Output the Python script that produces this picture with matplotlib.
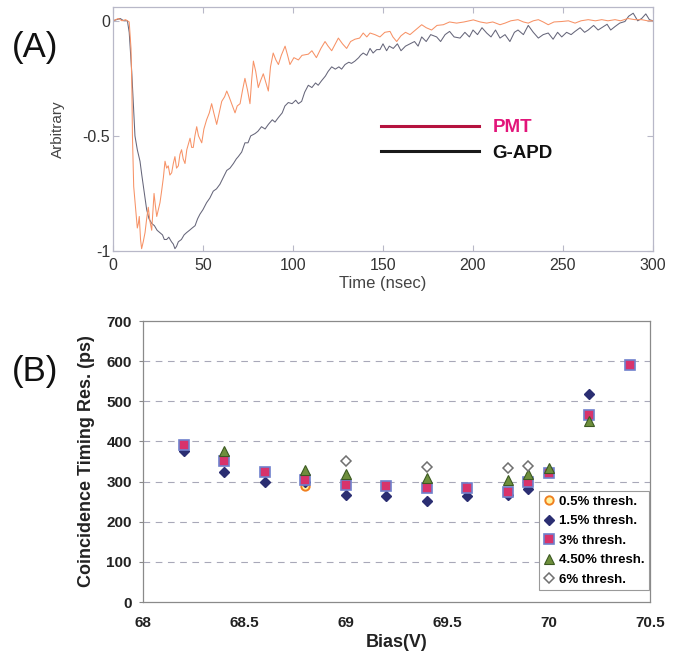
import matplotlib
matplotlib.use("Agg")
import matplotlib.pyplot as plt
from matplotlib.lines import Line2D

plt.rcParams['font.family'] = ['Liberation Sans', 'DejaVu Sans']
plt.rcParams['axes.unicode_minus'] = False

# ---------------- Panel A data ----------------
pmt_t = [0, 3, 5, 7, 9, 10, 10.5, 10.8, 11.5, 12.8, 13.5, 14.1, 14.6, 15.3, 15.9, 16.8, 17.8, 18.7,
         19.6, 20.5, 21.5, 22.2, 22.8, 23.5, 24.3, 25.2, 26.1, 27.0, 28.0, 28.9, 29.8, 30.7, 31.6,
         32.6, 33.5, 34.4, 35.3, 36.3, 37.2, 38.1, 39.0, 40.0, 41.0, 42.8, 43.7, 44.6, 45.5, 46.5,
         47.5, 49.3, 50.5, 52.0, 53.5, 54.8, 56.0, 57.6, 59.0, 60.4, 62.0, 63.2, 64.5, 65.9, 67.8,
         69.0, 70.6, 72.0, 73.3, 74.7, 76.1, 77.0, 78.0, 79.3, 80.7, 82.0, 83.5, 85.0, 86.3, 87.5,
         89.0, 90.5, 91.9, 93.5, 95.6, 97.0, 98.3, 100.5, 103.0, 105.0, 108.5, 110.5, 113.0, 115.5,
         117.8, 119.5, 121.5, 123.5, 125.2, 127.5, 129.8, 132.0, 134.4, 137.0, 139.0, 141.0, 142.8,
         145.5, 148.3, 151.0, 153.9, 155.5, 157.6, 160.0, 162.5, 165.0, 168.0, 171.5, 174.0, 177.0,
         180.0, 183.5, 187.0, 190.9, 195.0, 200.2, 204.0, 207.6, 211.0, 215.0, 217.8, 221.0, 225.0,
         228.0, 230.7, 233.5, 236.3, 239.0, 241.8, 245.0, 249.3, 253.0, 256.7, 260.0, 264.0, 268.0,
         271.5, 275.0, 278.9, 282.0, 286.0, 290.0, 293.7, 297.0, 300.0]
pmt_v = [0.0, 0.01, 0.0, 0.005, -0.005, -0.12, -0.3, -0.5, -0.72, -0.84, -0.90, -0.88, -0.85, -0.95,
         -0.99, -0.96, -0.92, -0.86, -0.81, -0.87, -0.91, -0.82, -0.75, -0.80, -0.85, -0.82, -0.79,
         -0.74, -0.68, -0.61, -0.64, -0.63, -0.67, -0.66, -0.62, -0.59, -0.64, -0.63, -0.58, -0.56,
         -0.60, -0.62, -0.56, -0.51, -0.55, -0.55, -0.50, -0.46, -0.50, -0.53, -0.47, -0.43, -0.40,
         -0.36, -0.40, -0.45, -0.40, -0.35, -0.33, -0.305, -0.33, -0.36, -0.40, -0.37, -0.36, -0.30,
         -0.25, -0.30, -0.36, -0.26, -0.175, -0.22, -0.29, -0.26, -0.23, -0.27, -0.305, -0.20, -0.14,
         -0.17, -0.19, -0.15, -0.11, -0.15, -0.19, -0.16, -0.17, -0.15, -0.145, -0.13, -0.16, -0.12,
         -0.09, -0.11, -0.13, -0.10, -0.075, -0.10, -0.12, -0.09, -0.08, -0.075, -0.053, -0.07,
         -0.053, -0.06, -0.07, -0.05, -0.046, -0.07, -0.09, -0.065, -0.05, -0.06, -0.04, -0.017,
         -0.03, -0.04, -0.02, -0.017, -0.005, -0.01, -0.005, 0.004, -0.005, -0.01, -0.005, -0.017,
         -0.01, 0.0, 0.005, -0.005, -0.01, 0.0, 0.005, -0.005, -0.017, -0.005, -0.003, 0.0, -0.01,
         0.0, 0.005, 0.0, 0.005, 0.0, 0.005, 0.0, 0.01, 0.005, 0.005, 0.0, 0.0]

gapd_t = [0, 2, 4, 6, 8, 9, 10.4, 11.3, 12.2, 13.5, 15.0, 16.0, 16.9, 17.8, 18.7, 20.0, 21.5, 23.0,
          24.5, 26.0, 27.5, 28.5, 29.8, 31.0, 32.5, 33.5, 34.4, 35.3, 36.3, 38.0, 39.5, 40.9, 42.5,
          44.0, 45.6, 47.0, 48.3, 50.0, 52.0, 53.8, 55.7, 57.5, 59.4, 61.3, 63.2, 65.0, 66.9, 68.5,
          69.6, 71.5, 73.3, 75.0, 76.5, 78.9, 80.5, 82.5, 84.5, 86.3, 88.5, 90.0, 91.9, 94.0, 95.5,
          97.4, 99.5, 101.5, 103.0, 104.8, 106.5, 108.5, 110.5, 112.5, 114.0, 115.9, 118.0, 119.5,
          121.5, 123.5, 125.5, 127.0, 128.9, 131.0, 132.5, 134.4, 136.5, 137.5, 139.0, 141.0, 142.8,
          144.5, 146.5, 148.3, 150.0, 152.0, 153.5, 155.7, 158.0, 160.0, 162.5, 165.0, 167.5, 169.5,
          171.5, 174.0, 176.5, 179.8, 182.0, 184.5, 187.0, 189.5, 192.8, 195.5, 198.0, 200.0, 202.5,
          205.0, 207.6, 210.0, 212.5, 215.0, 217.8, 220.5, 223.0, 225.0, 228.0, 230.7, 233.5, 236.3,
          239.0, 241.8, 244.5, 247.0, 249.3, 252.0, 254.5, 256.7, 259.5, 262.0, 264.0, 267.0, 269.5,
          271.5, 274.5, 276.5, 278.9, 281.5, 284.4, 286.5, 289.0, 291.5, 293.7, 296.0, 298.0, 300.0]
gapd_v = [0.0, 0.005, 0.01, 0.0, 0.0, -0.05, -0.22, -0.36, -0.50, -0.56, -0.61, -0.67, -0.72, -0.77,
          -0.82, -0.86, -0.88, -0.89, -0.91, -0.92, -0.93, -0.95, -0.95, -0.94, -0.96, -0.97, -0.99,
          -0.98, -0.96, -0.95, -0.93, -0.92, -0.91, -0.90, -0.89, -0.86, -0.84, -0.82, -0.79, -0.77,
          -0.74, -0.73, -0.71, -0.68, -0.65, -0.64, -0.62, -0.60, -0.59, -0.57, -0.53, -0.53, -0.50,
          -0.49, -0.48, -0.46, -0.47, -0.45, -0.43, -0.44, -0.42, -0.40, -0.37, -0.355, -0.36, -0.345,
          -0.36, -0.35, -0.31, -0.28, -0.29, -0.27, -0.28, -0.26, -0.24, -0.22, -0.20, -0.21, -0.20,
          -0.21, -0.19, -0.18, -0.185, -0.175, -0.16, -0.15, -0.14, -0.15, -0.12, -0.14, -0.125,
          -0.125, -0.10, -0.13, -0.11, -0.12, -0.10, -0.13, -0.11, -0.10, -0.09, -0.11, -0.07, -0.09,
          -0.06, -0.07, -0.09, -0.06, -0.046, -0.07, -0.075, -0.05, -0.07, -0.04, -0.06, -0.03,
          -0.053, -0.07, -0.04, -0.075, -0.06, -0.09, -0.05, -0.04, -0.06, -0.02, -0.05, -0.075,
          -0.06, -0.053, -0.08, -0.05, -0.07, -0.05, -0.06, -0.046, -0.03, -0.05, -0.04, -0.02,
          -0.04, -0.03, -0.015, -0.04, -0.025, -0.01, -0.003, 0.02, 0.033, 0.0, 0.01, 0.03, 0.005, 0.0]

a_xticks = [0, 50, 100, 150, 200, 250, 300]
a_yticks = [-1, -0.5, 0]
a_ytick_labels = ["-1", "-0.5", "0"]
a_legend_labels = ["PMT", "G-APD"]

# ---------------- Panel B data ----------------
bias_05 = [68.8]
res_05 = [288]
bias_15 = [68.2, 68.4, 68.6, 68.8, 69.0, 69.2, 69.4, 69.6, 69.8, 69.9, 70.2]
res_15 = [376, 324, 298, 298, 267, 263, 252, 263, 267, 282, 519]
bias_3 = [68.2, 68.4, 68.6, 68.8, 69.0, 69.2, 69.4, 69.6, 69.8, 69.9, 70.0, 70.2, 70.4]
res_3 = [392, 352, 325, 305, 291, 290, 284, 285, 275, 298, 321, 465, 591]
bias_45 = [68.4, 68.8, 69.0, 69.4, 69.8, 69.9, 70.0, 70.2]
res_45 = [375, 329, 318, 308, 304, 318, 333, 452]
bias_6 = [69.0, 69.4, 69.8, 69.9]
res_6 = [352, 337, 335, 338]

b_xticks = [68, 68.5, 69, 69.5, 70, 70.5]
b_xtick_labels = ["68", "68.5", "69", "69.5", "70", "70.5"]
b_yticks = [0, 100, 200, 300, 400, 500, 600, 700]
b_labels = ["0.5% thresh.", "1.5% thresh.", "3% thresh.", "4.50% thresh.", "6% thresh."]

W, H = 681, 653
fig = plt.figure(figsize=(W / 100, H / 100), dpi=100)

def rect(l, t, r, b):
    return [l / W, 1 - b / H, (r - l) / W, (b - t) / H]

# ---------------- Panel A ----------------
axA = fig.add_axes(rect(113, 7, 653, 251))
axA.plot(gapd_t, gapd_v, color='#66667a', lw=0.75)
axA.plot(pmt_t, pmt_v, color='#f79266', lw=0.75)
axA.set_xlim(0, 300)
axA.set_ylim(-1.0, 0.06)
axA.set_xticks(a_xticks)
axA.set_yticks(a_yticks)
axA.set_yticklabels(a_ytick_labels)
for s in axA.spines.values():
    s.set_color('#b8b8c8')
    s.set_linewidth(0.9)
axA.tick_params(direction='in', top=True, right=True, length=4, width=0.8, color='#b8b8c8',
                labelsize=11.5, labelcolor='#333333')
axA.tick_params(axis='y', pad=2)
axA.tick_params(axis='x', pad=5)
axA.set_xlabel("Time (nsec)", fontsize=12, color='#444444', labelpad=2)
axA.set_ylabel("Arbitrary", fontsize=11, color='#444444', labelpad=13)

handlesA = [Line2D([], [], color='#b5123f', lw=2.2), Line2D([], [], color='#1a1a1a', lw=2.2)]
legA = axA.legend(handlesA, a_legend_labels, loc='upper left', bbox_to_anchor=(381 / W, 1 - 119 / H),
                  bbox_transform=fig.transFigure, frameon=False, borderpad=0, borderaxespad=0,
                  handlelength=5.2, handletextpad=0.75, labelspacing=0.45,
                  prop={'weight': 'bold', 'size': 13.5},
                  labelcolor=['#e2157a', '#111111'])

fig.text(12 / W, 1 - 47 / H, "(A)", fontsize=25, va='center', ha='left', color='#111111')
fig.text(12 / W, 1 - 372 / H, "(B)", fontsize=25, va='center', ha='left', color='#111111')

# ---------------- Panel B ----------------
axB = fig.add_axes(rect(143, 321, 650, 602))
axB.set_xlim(68, 70.5)
axB.set_ylim(0, 700)
for yv in b_yticks[1:-1]:
    axB.axhline(yv, color='#a8a8b8', lw=0.8, ls=(0, (6, 5)), zorder=1)

axB.plot(bias_05, res_05, ls='none', marker='o', ms=6, mfc='#fff3a0', mec='#f08020', mew=1.4,
         label=b_labels[0], zorder=3)
axB.plot(bias_15, res_15, ls='none', marker='D', ms=5, mfc='#2b2e72', mec='#2b2e72',
         label=b_labels[1], zorder=3)
axB.plot(bias_3, res_3, ls='none', marker='s', ms=6.5, mfc='#d8336b', mec='#7080cc', mew=1.2,
         label=b_labels[2], zorder=3)
axB.plot(bias_45, res_45, ls='none', marker='^', ms=7, mfc='#6e8f3c', mec='#3c5a22', mew=0.8,
         label=b_labels[3], zorder=3)
axB.plot(bias_6, res_6, ls='none', marker='D', ms=5, mfc='white', mec='#707070', mew=1.1,
         label=b_labels[4], zorder=3)

axB.set_xticks(b_xticks)
axB.set_xticklabels(b_xtick_labels)
axB.set_yticks(b_yticks)
for s in axB.spines.values():
    s.set_color('#8a8a8a')
    s.set_linewidth(0.9)
axB.tick_params(axis='x', length=0, pad=10, labelsize=11)
axB.tick_params(axis='y', length=3, color='#8a8a8a', pad=5, labelsize=11)
for lab in axB.get_xticklabels() + axB.get_yticklabels():
    lab.set_fontweight('bold')
    lab.set_color('#222222')
axB.set_xlabel("Bias(V)", fontsize=13, fontweight='bold', color='#222222', labelpad=3)
axB.set_ylabel("Coincidence Timing Res. (ps)", fontsize=13, fontweight='bold', color='#222222',
               labelpad=8)

legB = axB.legend(loc='upper left', bbox_to_anchor=(539 / W, 1 - 491 / H),
                  bbox_transform=fig.transFigure, fancybox=False, framealpha=1,
                  edgecolor='#9a9a9a', borderpad=0.35, borderaxespad=0, handlelength=0.8,
                  handletextpad=0.35, labelspacing=0.55, prop={'weight': 'bold', 'size': 9.5})
legB.get_frame().set_linewidth(0.8)

fig.savefig("out.png", dpi=100, facecolor='white')
